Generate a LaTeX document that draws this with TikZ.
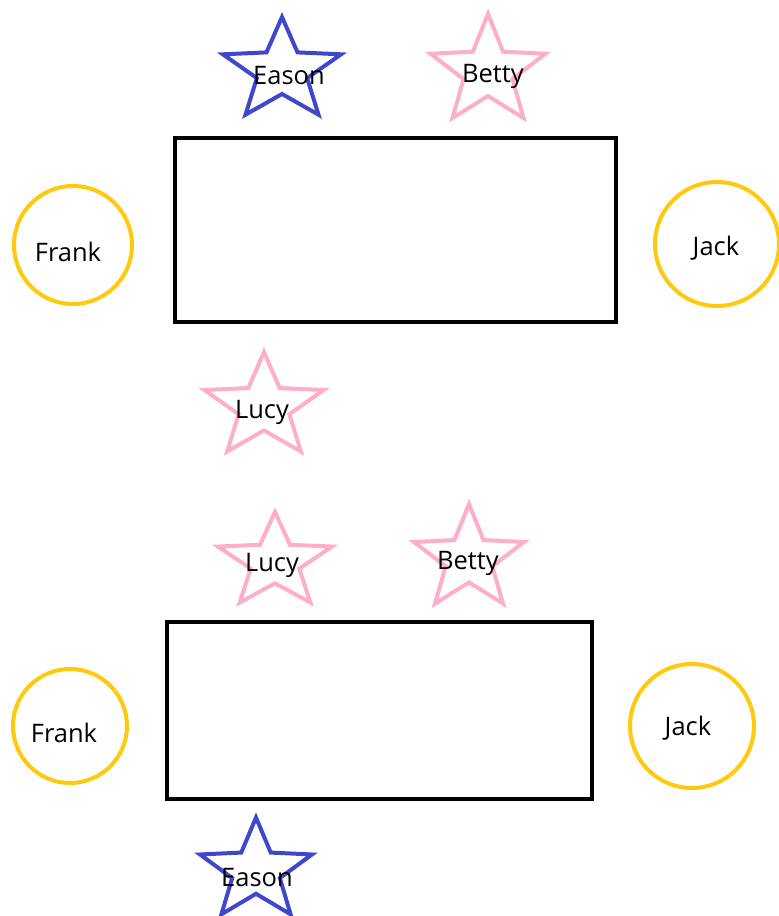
\documentclass[tikz,border=0pt]{standalone}
\usepackage{fontspec}
\setmainfont{Open Sans}
\usepackage{tikz}
\usetikzlibrary{shapes.geometric}

\definecolor{guestblue}{HTML}{3F48CC}
\definecolor{guestpink}{HTML}{FFAEC9}
\definecolor{guestgold}{HTML}{FFC90E}

\begin{document}
\begin{tikzpicture}[x=1pt, y=1pt, every node/.style={font=\fontsize{25.5}{30}\selectfont, inner sep=0pt},
	seat/.style={star, star points=5, star point ratio=2.35, line width=4pt, transform shape},
	roundseat/.style={circle, draw=guestgold, line width=4pt},
	table/.style={rectangle, draw=black, line width=4pt}]
	\useasboundingbox (0,0) rectangle (779,-916);
	% first arrangement
	\node[table, minimum width=441pt, minimum height=184pt] (table1) at (395.5,-230) {};
	\node[seat, draw=guestblue, minimum size=108pt, xscale=1.15] (eason1) at (282,-71) {};
	\node[seat, draw=guestpink, minimum size=115pt, xscale=1.05] (betty1) at (488,-71.5) {};
	\node[seat, draw=guestpink, minimum size=110pt, xscale=1.14] (lucy1) at (264,-407) {};
	\node[roundseat, minimum size=118pt] (frank1) at (73,-245) {};
	\node[roundseat, minimum size=124pt] (jack1) at (717,-244) {};
	\node (eason1 name) at (289,-76) {Eason};
	\node (betty1 name) at (493,-76) {Betty};
	\node (lucy1 name) at (262,-412) {Lucy};
	\node (frank1 name) at (68,-252) {Frank};
	\node (jack1 name) at (716,-248) {Jack};
	% second arrangement
	\node[table, minimum width=425pt, minimum height=177pt] (table2) at (379.5,-710.5) {};
	\node[seat, draw=guestpink, minimum size=100pt, xscale=1.2] (lucy2) at (275,-562) {};
	\node[seat, draw=guestpink, minimum size=110pt, xscale=1.05] (betty2) at (469,-559) {};
	\node[seat, draw=guestblue, minimum size=107pt, xscale=1.1] (eason2) at (256,-871) {};
	\node[roundseat, minimum size=114pt] (frank2) at (70,-726) {};
	\node[roundseat, minimum size=124pt] (jack2) at (692,-726) {};
	\node (lucy2 name) at (272,-565) {Lucy};
	\node (betty2 name) at (468,-563) {Betty};
	\node (eason2 name) at (257,-878) {Eason};
	\node (frank2 name) at (64,-733) {Frank};
	\node (jack2 name) at (688,-728) {Jack};
\end{tikzpicture}
\end{document}
